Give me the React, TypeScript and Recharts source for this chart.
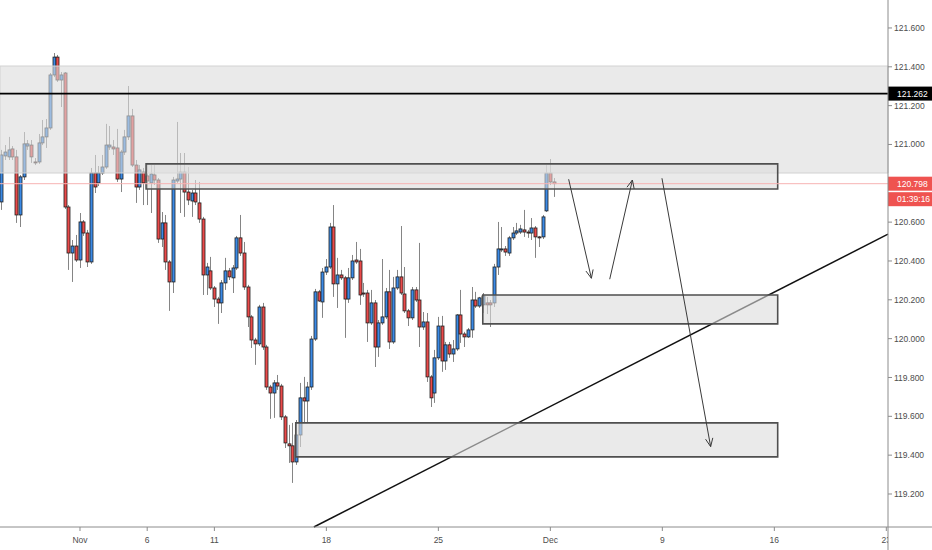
import { ComposedChart, Bar, XAxis, YAxis, ReferenceArea, ReferenceLine } from 'recharts';

// EURJPY 4h candles, index 0 = first bar of Nov 1
const FIRST_BAR = -21;

const opens = [
  120.704, 120.941, 120.936, 120.977, 120.936, 120.637, 120.833, 120.992, 120.997, 120.910,
  120.910, 121.008, 121.039, 121.085, 121.358, 121.450, 121.332, 121.368, 120.678, 120.441,
  120.477, 120.405, 120.601, 120.544, 120.395, 120.853, 120.802, 120.853, 120.884, 120.987,
  120.987, 120.982, 120.822, 120.961, 121.039, 121.147, 120.894, 120.781, 120.858, 120.838,
  120.802, 120.843, 120.817, 120.513, 120.596, 120.395, 120.292, 120.812, 120.822, 120.858,
  120.755, 120.709, 120.750, 120.699, 120.616, 120.328, 120.349, 120.261, 120.204, 120.184,
  120.287, 120.349, 120.313, 120.364, 120.519, 120.441, 120.266, 120.112, 119.993, 119.973,
  120.163, 119.957, 119.751, 119.720, 119.772, 119.756, 119.597, 119.458, 119.448, 119.365,
  119.504, 119.695, 119.679, 119.751, 119.998, 120.241, 120.189, 120.343, 120.369, 120.575,
  120.282, 120.328, 120.313, 120.204, 120.313, 120.405, 120.400, 120.235, 120.235, 120.081,
  120.184, 119.957, 120.081, 120.112, 120.241, 119.983, 120.261, 120.318, 120.230, 120.143,
  120.107, 120.251, 120.199, 120.060, 120.086, 119.803, 119.720, 119.901, 120.065, 119.885,
  119.968, 119.921, 119.947, 120.122, 120.024, 120.009, 120.045, 120.199, 120.168, 120.174,
  120.184, 120.184, 120.184, 120.369, 120.457, 120.462, 120.441, 120.519, 120.544, 120.549,
  120.560, 120.549, 120.544, 120.570, 120.524, 120.524, 120.658, 120.853, 120.807,
];

const highs = [
  120.972, 120.997, 121.039, 120.992, 120.972, 120.843, 121.064, 121.023, 121.023, 120.930,
  121.054, 121.126, 121.131, 121.368, 121.471, 121.461, 121.373, 121.373, 120.688, 120.508,
  120.534, 120.647, 120.611, 120.560, 120.879, 120.946, 120.889, 120.946, 121.106, 121.095,
  121.023, 121.080, 120.972, 121.075, 121.301, 121.183, 120.920, 120.894, 120.879, 120.905,
  120.894, 120.894, 120.827, 120.652, 120.637, 120.405, 120.833, 121.116, 120.956, 120.956,
  120.884, 120.766, 120.817, 120.807, 120.627, 120.390, 120.421, 120.271, 120.215, 120.302,
  120.416, 120.364, 120.379, 120.529, 120.637, 120.498, 120.277, 120.122, 120.004, 120.174,
  120.184, 119.968, 119.762, 119.787, 119.813, 119.767, 119.607, 119.556, 119.566, 119.581,
  119.772, 119.803, 119.777, 120.014, 120.256, 120.251, 120.364, 120.410, 120.596, 120.688,
  120.416, 120.354, 120.323, 120.364, 120.431, 120.498, 120.462, 120.287, 120.251, 120.251,
  120.199, 120.096, 120.410, 120.261, 120.354, 120.318, 120.354, 120.580, 120.369, 120.153,
  120.266, 120.266, 120.493, 120.137, 120.132, 119.813, 119.942, 120.112, 120.117, 119.983,
  119.983, 119.993, 120.127, 120.251, 120.035, 120.055, 120.266, 120.241, 120.215, 120.235,
  120.215, 120.199, 120.385, 120.601, 120.575, 120.477, 120.529, 120.575, 120.596, 120.586,
  120.663, 120.560, 120.621, 120.580, 120.529, 120.637, 120.894, 120.925, 120.827,
];

const lows = [
  120.663, 120.920, 120.920, 120.920, 120.596, 120.575, 120.817, 120.972, 120.905, 120.894,
  120.900, 120.997, 120.982, 121.075, 121.347, 121.322, 121.193, 120.668, 120.354, 120.292,
  120.395, 120.364, 120.529, 120.369, 120.385, 120.750, 120.786, 120.843, 120.874, 120.972,
  120.946, 120.807, 120.755, 120.946, 121.023, 120.884, 120.699, 120.766, 120.688, 120.688,
  120.647, 120.791, 120.493, 120.472, 120.354, 120.143, 120.235, 120.802, 120.647, 120.627,
  120.688, 120.627, 120.688, 120.596, 120.225, 120.225, 120.251, 120.163, 120.076, 120.132,
  120.251, 120.302, 120.235, 120.354, 120.426, 120.251, 120.060, 119.952, 119.865, 119.962,
  119.942, 119.736, 119.587, 119.592, 119.736, 119.581, 119.437, 119.360, 119.257, 119.350,
  119.442, 119.566, 119.566, 119.736, 119.988, 120.189, 120.107, 120.328, 120.359, 120.215,
  120.158, 120.302, 120.004, 120.184, 120.302, 120.385, 120.174, 120.215, 119.983, 120.071,
  119.854, 119.906, 120.071, 120.101, 119.947, 119.973, 120.251, 120.225, 120.132, 120.065,
  120.096, 120.189, 119.957, 120.045, 119.777, 119.648, 119.669, 119.890, 119.829, 119.839,
  119.901, 119.880, 119.937, 119.978, 119.957, 120.004, 120.004, 120.158, 120.158, 120.132,
  120.127, 120.060, 120.163, 120.328, 120.446, 120.426, 120.426, 120.508, 120.534, 120.539,
  120.524, 120.519, 120.508, 120.416, 120.472, 120.513, 120.652, 120.791, 120.730,
];

const closes = [
  120.946, 120.961, 120.972, 120.936, 120.637, 120.833, 121.003, 121.003, 120.936, 120.905,
  121.008, 121.039, 121.085, 121.358, 121.450, 121.332, 121.358, 120.678, 120.441, 120.477,
  120.405, 120.601, 120.544, 120.395, 120.853, 120.781, 120.853, 120.884, 120.997, 120.997,
  120.977, 120.822, 120.961, 121.039, 121.147, 120.894, 120.781, 120.869, 120.802, 120.812,
  120.848, 120.817, 120.513, 120.596, 120.395, 120.292, 120.817, 120.822, 120.858, 120.755,
  120.714, 120.750, 120.704, 120.616, 120.328, 120.369, 120.261, 120.204, 120.184, 120.287,
  120.349, 120.318, 120.364, 120.519, 120.441, 120.266, 120.112, 119.993, 119.973, 120.163,
  119.957, 119.751, 119.720, 119.772, 119.756, 119.597, 119.463, 119.448, 119.365, 119.504,
  119.695, 119.679, 119.751, 119.998, 120.241, 120.194, 120.343, 120.369, 120.575, 120.282,
  120.328, 120.313, 120.204, 120.313, 120.400, 120.395, 120.225, 120.230, 120.081, 120.184,
  119.957, 120.081, 120.112, 120.241, 119.983, 120.261, 120.318, 120.235, 120.143, 120.107,
  120.251, 120.199, 120.060, 120.086, 119.803, 119.695, 119.901, 120.065, 119.885, 119.968,
  119.921, 119.947, 120.122, 120.024, 120.009, 120.045, 120.199, 120.168, 120.210, 120.220,
  120.174, 120.174, 120.369, 120.462, 120.462, 120.446, 120.519, 120.544, 120.555, 120.565,
  120.549, 120.544, 120.570, 120.524, 120.519, 120.627, 120.853, 120.807, 120.798,
];

const timeTicks = [0, 18, 36, 66, 96, 126, 156, 186, 216];
const timeLabels = ['Nov', '6', '11', '18', '25', 'Dec', '9', '16', '23'];
// 120.800 sits under the last-price badge, so it is left out
const priceTicks = [119.2, 119.4, 119.6, 119.8, 120.0, 120.2, 120.4, 120.6, 121.0, 121.2, 121.4, 121.6];

// drawings
const bigZone = [121.404, 120.853];
const topBox = [17.7, 186.9, 120.900, 120.771];
const midBox = [107.9, 186.9, 120.225, 120.076];
const lowBox = [57.8, 186.9, 119.566, 119.391];
const resistance = 121.262;
const lastPrice = 120.798;
const trend = [62.65, 119.03, 216.45, 120.538];
const arrows = [
  [130.9, 120.821, 136.99, 120.311],
  [141.9, 120.306, 147.98, 120.817],
  [155.9, 120.826, 168.94, 119.444],
];

const X_DOMAIN: [number, number] = [-21.43, 216.45];
const Y_DOMAIN: [number, number] = [119.03, 121.744];

const BLUE = '#3b8ae6';
const RED = '#ea4a4a';
const AXIS = '#8c8c8c';
const FONT = '"Liberation Sans", Arial, sans-serif';

const data = opens.map((o, i) => ({
  k: FIRST_BAR + i,
  open: o,
  high: highs[i],
  low: lows[i],
  close: closes[i],
}));

function Candle(props: any) {
  const { x, y, width, height, payload } = props;
  if (!payload) return null;
  const top = Math.min(y, y + height);
  const bottom = Math.max(y, y + height);
  const { open, close, high, low } = payload;
  const ppu = (bottom - top) / (high - low);
  const py = (v: number) => top + (high - v) * ppu;
  const up = close >= open;
  const cx = Math.round(x + width / 2) + 0.5;
  const bTop = py(Math.max(open, close));
  const bBot = py(Math.min(open, close));
  return (
    <g>
      <line x1={cx} x2={cx} y1={top} y2={bottom} stroke="#858585" strokeWidth={1} />
      <rect
        x={cx - 1.5}
        y={bTop}
        width={3}
        height={Math.max(bBot - bTop, 1)}
        fill={up ? BLUE : RED}
        stroke="#1e1e1e"
        strokeWidth={0.8}
      />
    </g>
  );
}

function Arrow(props: any) {
  const { x1, y1, x2, y2 } = props;
  const ang = Math.atan2(y2 - y1, x2 - x1);
  const len = 9;
  const spread = 0.42;
  const ax = x2 - len * Math.cos(ang - spread);
  const ay = y2 - len * Math.sin(ang - spread);
  const bx = x2 - len * Math.cos(ang + spread);
  const by = y2 - len * Math.sin(ang + spread);
  return (
    <g stroke="#3a3a3a" strokeWidth={1} fill="none">
      <line x1={x1} y1={y1} x2={x2} y2={y2} />
      <polyline points={`${ax},${ay} ${x2},${y2} ${bx},${by}`} />
    </g>
  );
}

function Badge(props: any) {
  const { viewBox, items } = props;
  if (!viewBox) return null;
  const left = viewBox.x + viewBox.width;
  return (
    <g>
      {items.map((it: any, i: number) => (
        <g key={i}>
          <rect x={left} y={viewBox.y - 7 + i * 15.5} width={44} height={14} fill={it.bg} />
          <text
            x={left + 9}
            y={viewBox.y + 3 + i * 15.5}
            fill="#fff"
            fontSize={8.5}
            fontFamily={FONT}
          >
            {it.text}
          </text>
        </g>
      ))}
    </g>
  );
}

function TimeTick(props: any) {
  const { x, y, payload } = props;
  const idx = timeTicks.indexOf(payload.value);
  return (
    <g>
      <defs>
        <clipPath id={`tclip${idx}`}>
          <rect x={0} y={0} width={888} height={550} />
        </clipPath>
      </defs>
      <text
        x={x}
        y={y + 10}
        textAnchor="middle"
        fontSize={8.5}
        fill="#4d4d4d"
        fontFamily={FONT}
        clipPath={`url(#tclip${idx})`}
      >
        {timeLabels[idx]}
      </text>
    </g>
  );
}

// how far the two axis lines run past the plot, in data units
const X_TAIL = 44 / 3.735;
const Y_TAIL = 23 / 194.2;

export default function App() {
  return (
    <div style={{ position: 'absolute', left: 0, top: 0, background: '#fff' }}>
      <ComposedChart width={932} height={550} data={data} margin={{ top: 0, right: 0, bottom: 0, left: 0 }}>
        <XAxis
          dataKey="k"
          type="number"
          domain={X_DOMAIN}
          allowDataOverflow
          ticks={timeTicks}
          tick={<TimeTick />}
          height={23}
          stroke={AXIS}
          tickSize={4}
          interval={0}
        />
        <YAxis
          orientation="right"
          type="number"
          domain={Y_DOMAIN}
          allowDataOverflow
          ticks={priceTicks}
          width={44}
          stroke={AXIS}
          tickSize={4}
          tick={{ fontSize: 8.5, fill: '#4d4d4d', fontFamily: FONT }}
          tickFormatter={(v: number) => v.toFixed(3)}
          interval={0}
        />
        <Bar
          dataKey={(d: any) => [d.low, d.high]}
          shape={<Candle />}
          barSize={3}
          isAnimationActive={false}
        />
        <ReferenceLine
          segment={[{ x: trend[0], y: trend[1] }, { x: trend[2], y: trend[3] }]}
          stroke="#111"
          strokeWidth={1.5}
          ifOverflow="visible"
          zIndex={350}
        />
        <ReferenceArea
          y1={bigZone[0]}
          y2={bigZone[1]}
          fill="rgb(220,220,220)"
          fillOpacity={0.6}
          stroke="#d2d2d2"
          strokeWidth={1}
          ifOverflow="visible"
          zIndex={400}
        />
        {[topBox, midBox, lowBox].map((b, i) => (
          <ReferenceArea
            key={i}
            x1={b[0]}
            x2={b[1]}
            y1={b[2]}
            y2={b[3]}
            fill="rgb(220,220,220)"
            fillOpacity={0.6}
            stroke="#4f4f4f"
            strokeWidth={1.6}
            ifOverflow="visible"
            zIndex={410}
          />
        ))}
        <ReferenceLine
          y={resistance}
          stroke="#000"
          strokeWidth={1.6}
          ifOverflow="visible"
          zIndex={450}
          label={<Badge items={[{ text: resistance.toFixed(3), bg: '#000' }]} />}
        />
        <ReferenceLine
          y={lastPrice}
          stroke="#f7b3b3"
          strokeWidth={1}
          ifOverflow="visible"
          zIndex={440}
          label={
            <Badge
              items={[
                { text: lastPrice.toFixed(3), bg: '#ef5350' },
                { text: '01:39:16', bg: '#ef5350' },
              ]}
            />
          }
        />
        {arrows.map((a, i) => (
          <ReferenceLine
            key={`a${i}`}
            segment={[{ x: a[0], y: a[1] }, { x: a[2], y: a[3] }]}
            shape={<Arrow />}
            ifOverflow="visible"
            zIndex={460}
          />
        ))}
        <ReferenceLine
          segment={[{ x: X_DOMAIN[1], y: Y_DOMAIN[0] }, { x: X_DOMAIN[1], y: Y_DOMAIN[0] - Y_TAIL }]}
          stroke={AXIS}
          ifOverflow="visible"
        />
        <ReferenceLine
          segment={[{ x: X_DOMAIN[1], y: Y_DOMAIN[0] }, { x: X_DOMAIN[1] + X_TAIL, y: Y_DOMAIN[0] }]}
          stroke={AXIS}
          ifOverflow="visible"
        />
      </ComposedChart>
    </div>
  );
}
